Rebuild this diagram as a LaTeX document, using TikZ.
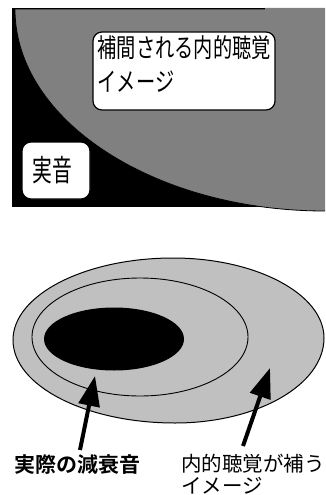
\documentclass[tikz,border=0pt]{standalone}
\usepackage{fontspec}
\usetikzlibrary{arrows.meta}
\newfontfamily\jp{Noto Sans CJK JP}
\newfontfamily\jpbold{Noto Sans CJK JP Bold}
\newfontfamily\jptop{Noto Sans CJK JP}[FakeStretch=0.74]
\newfontfamily\jpsq{Noto Sans CJK JP}[FakeStretch=0.66]
\definecolor{midgray}{HTML}{808080}
\definecolor{lightgray}{HTML}{C0C0C0}
\tikzset{
  roundbox/.style={draw=black, fill=white, line width=1.2pt, rounded corners=9pt, inner sep=0pt},
  toptext/.style={anchor=base west, inner sep=0pt, font=\jptop\fontsize{26}{34}\selectfont},
  sqtext/.style={anchor=base west, inner sep=0pt, font=\jpsq\fontsize{30}{34}\selectfont},
  labtext/.style={anchor=base west, inner sep=0pt, font=\jp\fontsize{20.5}{26}\selectfont},
  labbold/.style={anchor=base west, inner sep=0pt, font=\jpbold\fontsize{21}{26}\selectfont},
  bigarrow/.style={line width=4pt, -{Triangle[length=30pt,width=21pt]}},
}
\begin{document}
\begin{tikzpicture}[x=1pt,y=-1pt]
\useasboundingbox (0,0) rectangle (325,495);
% top panel
\fill[black] (12,8) rectangle (265,207);
\fill[midgray] (15,9.5) -- (265,9.5) -- (265,8) -- (325,8) -- (325,211)
  .. controls (154,211) and (15,120) .. (15,9.5) -- cycle;
\draw[line width=0.8pt] (325,211) .. controls (154,211) and (15,120) .. (15,9.5);
\node[roundbox, minimum width=182pt, minimum height=78pt] (box1) at (184,71) {};
\node[toptext] (t1a) at (97.5,58) {補間される内的聴覚};
\node[toptext] (t1b) at (97.5,92) {イメージ};
\node[roundbox, minimum width=68pt, minimum height=57pt] (box2) at (56,170.5) {};
\node[sqtext] (t2) at (32,181) {実音};
% bottom panel
\filldraw[fill=lightgray, line width=1pt] (13,340) .. controls (13,295) and (85,258) .. (173,258)
  .. controls (256,258) and (324,294) .. (324,338)
  .. controls (324,385) and (257,423) .. (175,423)
  .. controls (86,423) and (13,386) .. (13,340) -- cycle;
\draw[line width=0.9pt] (140,337) ellipse [x radius=108pt, y radius=59pt];
\fill[black] (114,339) ellipse [x radius=70pt, y radius=31.5pt];
\coordinate (a1s) at (80,450);
\coordinate (a1e) at (95,376);
\coordinate (a2s) at (243,446);
\coordinate (a2e) at (270,368);
\draw[bigarrow] (a1s) -- (a1e);
\draw[bigarrow] (a2s) -- (a2e);
\node[labbold] (l1) at (14,472) {実際の減衰音};
\node[labtext] (l2a) at (181,471) {内的聴覚が補う};
\node[labtext] (l2b) at (181,493) {イメージ};
\end{tikzpicture}
\end{document}
